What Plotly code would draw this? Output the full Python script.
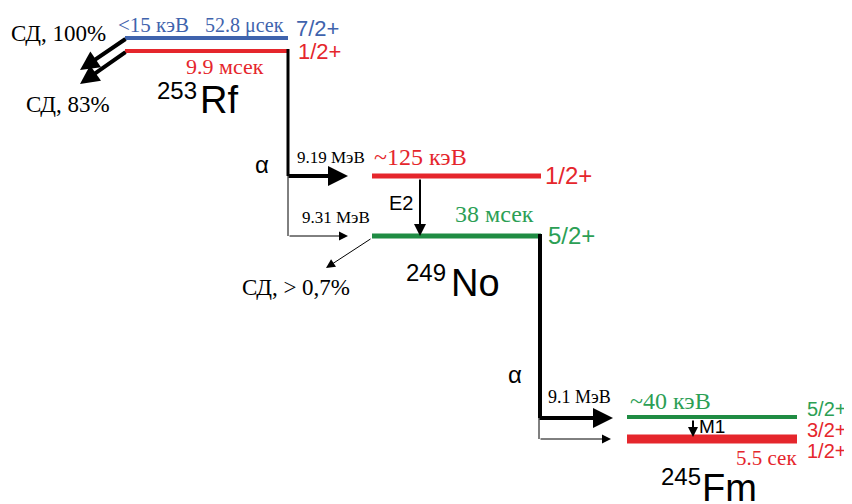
import plotly.graph_objects as go

# ---------------- data ----------------
mass_numbers = ["253", "249", "245"]
symbols = ["Rf", "No", "Fm"]
level_energies = ["<15 кэВ", "~125 кэВ", "~40 кэВ"]
rf_spins = ["7/2+", "1/2+"]
no_spins = ["1/2+", "5/2+"]
fm_spins = ["5/2+", "3/2+", "1/2+"]
half_lives = ["52.8 μсек", "9.9 мсек", "38 мсек", "5.5 сек"]
alpha_energies = ["9.19 МэВ", "9.31 МэВ", "9.1 МэВ"]
sf_branches = ["СД, 100%", "СД, 83%", "СД, > 0,7%"]
gamma_types = ["E2", "M1"]
decay_mode = "α"

# ---------------- styles ----------------
BLUE = "#3f63ad"
RED = "#e5262c"
GREEN_L = "#1f8c43"
GREEN_T = "#2c9f55"
BLACK = "#000000"
SERIF = "Liberation Serif"
SANS = "Liberation Sans"

fig = go.Figure()
ann = []


def seg(x0, x1, y0, y1, color, width):
    fig.add_trace(go.Scatter(x=[x0, x1], y=[y0, y1], mode="lines",
                             line=dict(color=color, width=width),
                             hoverinfo="skip", showlegend=False))


def arrow(x0, y0, x1, y1, width, size=1.0, color=BLACK):
    ann.append(dict(x=x1, y=y1, ax=x0, ay=y0, xref="x", yref="y",
                    axref="x", ayref="y", showarrow=True, text="",
                    arrowhead=2, arrowsize=size, arrowwidth=width,
                    arrowcolor=color, standoff=0, startstandoff=0))


def txt(x, y, s, size, color=BLACK, font=SERIF, xa="left"):
    ann.append(dict(x=x, y=y, xref="x", yref="y", text=s, showarrow=False,
                    xanchor=xa, yanchor="middle", borderpad=0,
                    font=dict(family=font, size=size, color=color)))


# ---------------- 253Rf ----------------
seg(125, 288, 38, 38, BLUE, 4)
seg(125, 288, 51, 51, RED, 4)
txt(117, 25, level_energies[0], 21, BLUE)
txt(204, 25, half_lives[0], 20, BLUE)
txt(295, 28, rf_spins[0], 22, BLUE, SANS)
txt(297, 51, rf_spins[1], 22, RED, SANS)
txt(185, 66, half_lives[1], 22, RED)
txt(10, 33, sf_branches[0], 23)
txt(25, 104, sf_branches[1], 23)
arrow(127, 38, 80, 70, 4, 0.95)
arrow(127, 51, 80, 84, 4, 0.95)
txt(156, 90, mass_numbers[0], 24, BLACK, SANS)
txt(199, 100, symbols[0], 38, BLACK, SANS)

# alpha decay Rf -> No
seg(288, 288, 49, 176, BLACK, 3)
seg(288, 288, 176, 236, BLACK, 1)
arrow(287, 176, 348, 176, 4, 1.0)
arrow(288, 236, 348, 236, 1, 1.8)
txt(262, 164, decay_mode, 24, BLACK, SANS, "center")
txt(296, 157, alpha_energies[0], 17)
txt(301, 217, alpha_energies[1], 17)

# ---------------- 249No ----------------
seg(372, 541, 176, 176, RED, 5)
seg(372, 541, 236, 236, GREEN_L, 5)
txt(373, 157, level_energies[1], 24, RED)
txt(544, 175, no_spins[0], 24, RED, SANS)
txt(454, 214, half_lives[2], 24, GREEN_T)
txt(547, 235, no_spins[1], 24, GREEN_T, SANS)
arrow(420, 178, 420, 236, 2, 1.2)
txt(388, 203, gamma_types[0], 20, BLACK, SANS)
arrow(372, 238, 326, 268, 1, 1.8)
txt(241, 287, sf_branches[2], 23)
txt(405, 272, mass_numbers[1], 24, BLACK, SANS)
txt(450, 283, symbols[1], 38, BLACK, SANS)

# alpha decay No -> Fm
seg(540, 540, 234, 418, BLACK, 4)
seg(539, 539, 418, 439, BLACK, 1)
arrow(538, 418, 613, 418, 4, 1.0)
arrow(539, 439, 611, 439, 1, 1.8)
txt(515, 374, decay_mode, 24, BLACK, SANS, "center")
txt(547, 397, alpha_energies[2], 18)

# ---------------- 245Fm ----------------
seg(627, 797, 417, 417, GREEN_L, 4)
seg(627, 797, 439, 439, RED, 9)
txt(629, 401, level_energies[2], 24, GREEN_T)
txt(806, 409, fm_spins[0], 20, GREEN_T, SANS)
txt(806, 430, fm_spins[1], 20, RED, SANS)
txt(806, 451, fm_spins[2], 20, RED, SANS)
txt(735, 458, half_lives[3], 21, RED)
arrow(693, 419, 693, 437, 2, 1.0)
txt(698, 426, gamma_types[1], 19, BLACK, SANS)
txt(660, 476, mass_numbers[2], 24, BLACK, SANS)
txt(701, 488, symbols[2], 38, BLACK, SANS)

# The page body has an 8 px default margin, so the ranges are shifted by 8
# so that a data unit corresponds to one window pixel.
fig.update_layout(
    width=852, height=504,
    margin=dict(l=0, r=0, t=0, b=0),
    paper_bgcolor="white", plot_bgcolor="white",
    xaxis=dict(range=[8, 860], visible=False, fixedrange=True),
    yaxis=dict(range=[512, 8], visible=False, fixedrange=True),
    annotations=ann,
    showlegend=False,
)

fig.write_html("out.html")
